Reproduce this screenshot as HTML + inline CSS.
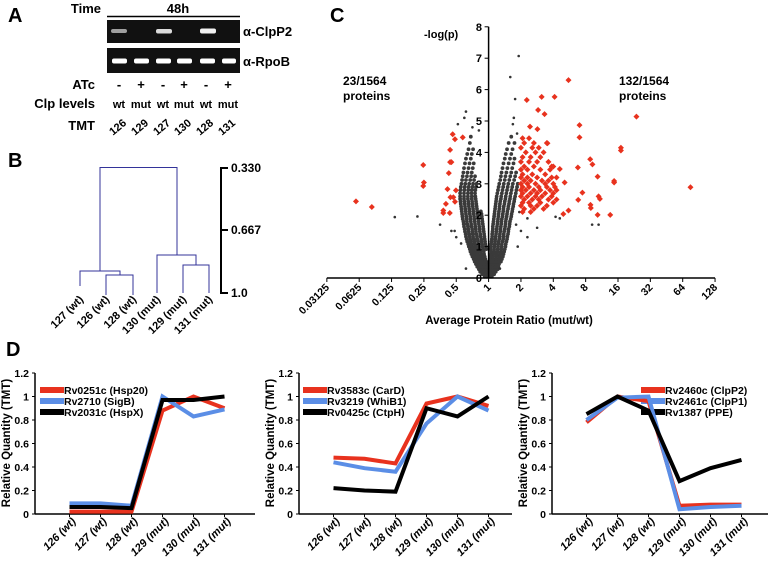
<!DOCTYPE html>
<html><head><meta charset="utf-8"><style>
html,body{margin:0;padding:0;background:#fff;width:768px;height:562px;overflow:hidden}
svg{display:block;font-family:"Liberation Sans",Arial,sans-serif;font-weight:bold}
</style></head><body>
<svg id="fig" width="768" height="562" viewBox="0 0 768 562">
<g>
<text x="8" y="22" font-size="20">A</text>
<text x="101" y="13" font-size="13" text-anchor="end">Time</text>
<text x="178" y="13" font-size="13" text-anchor="middle">48h</text>
<line x1="107" y1="16.5" x2="240" y2="16.5" stroke="#000" stroke-width="1.5"/>
<rect x="107" y="20" width="133" height="23" fill="#111"/>
<rect x="107" y="48" width="133" height="25" fill="#111"/>
<g fill="#fff">
<rect x="111" y="29" width="16" height="4" rx="2" opacity="0.6"/>
<rect x="156" y="29" width="16" height="4.5" rx="2" opacity="0.85"/>
<rect x="200" y="28.5" width="16" height="5" rx="2" opacity="0.95"/>
<rect x="112" y="58.5" width="15" height="5" rx="2"/>
<rect x="134" y="58.5" width="15" height="5" rx="2"/>
<rect x="156" y="58.5" width="15" height="5" rx="2"/>
<rect x="177" y="58.5" width="15" height="5" rx="2"/>
<rect x="200" y="58.5" width="15" height="5" rx="2"/>
<rect x="222" y="58.5" width="14" height="5" rx="2"/>
</g>
<text x="243" y="36" font-size="13">α-ClpP2</text>
<text x="243" y="66" font-size="13">α-RpoB</text>
<text x="95" y="89" font-size="13" text-anchor="end">ATc</text>
<text x="95" y="108" font-size="13" text-anchor="end">Clp levels</text>
<text x="95" y="130" font-size="13" text-anchor="end">TMT</text>
<g font-size="11" text-anchor="middle" id="arows"></g>
</g>
<g>
<text x="8" y="167" font-size="20">B</text>
<g stroke="#333399" stroke-width="1" fill="none">
<path d="M100,271 V167.5 H177 V255"/>
<path d="M80,286 V271 H120 V275"/>
<path d="M106,295 V275 H133 V295"/>
<path d="M157,293 V255 H196 V265"/>
<path d="M183,293 V265 H209 V293"/>
</g>
<g stroke="#000" stroke-width="2">
<line x1="221" y1="167" x2="221" y2="294"/>
<line x1="221" y1="168" x2="228" y2="168"/>
<line x1="221" y1="230" x2="228" y2="230"/>
<line x1="221" y1="293" x2="228" y2="293"/>
</g>
<text x="231" y="172" font-size="12">0.330</text>
<text x="231" y="234" font-size="12">0.667</text>
<text x="231" y="297" font-size="12">1.0</text>
<g font-size="11" text-anchor="end" id="bleaves"></g>
</g>
<g id="pc">
<text x="330" y="22" font-size="20">C</text>
<text x="424" y="38" font-size="11">-log(p)</text>
<text x="343" y="85" font-size="12">23/1564</text>
<text x="343" y="100" font-size="12">proteins</text>
<text x="619" y="85" font-size="12">132/1564</text>
<text x="619" y="100" font-size="12">proteins</text>
<text x="509" y="324" font-size="11.5" text-anchor="middle">Average Protein Ratio (mut/wt)</text>
</g>
<g id="pd">
<text x="6" y="356" font-size="20">D</text>
</g>
</svg>
<script>
var NS='http://www.w3.org/2000/svg';
function mk(tag,attrs,parent){var e=document.createElementNS(NS,tag);for(var k in attrs)e.setAttribute(k,attrs[k]);parent.appendChild(e);return e;}

var laneX=[119,141,163,184,206,228];
var atcSigns=['-','+','-','+','-','+'];
var clpLevels=['wt','mut','wt','mut','wt','mut'];
var tmtTags=['126','129','127','130','128','131'];
var ar=document.getElementById('arows');
laneX.forEach(function(x,i){
  var t=mk('text',{x:x,y:89,'font-size':'13'},ar);t.textContent=atcSigns[i];
  
  
  t=mk('text',{x:x,y:108,'font-size':'11'},ar);t.textContent=clpLevels[i];
  
  
  t=mk('text',{x:0,y:0,'font-size':'11',transform:'translate('+(x+1)+',130) rotate(-40)'},ar);t.textContent=tmtTags[i];
  
  
});
var leafNames=['127 (wt)','126 (wt)','128 (wt)','130 (mut)','129 (mut)','131 (mut)'];
var leafX=[80,106,133,157,183,209];
var bl=document.getElementById('bleaves');
leafNames.forEach(function(n,i){
  var t=mk('text',{transform:'translate('+(leafX[i]+4)+',300) rotate(-45)'},bl);t.textContent=n;
  
  
});

// ===== Panel C: volcano =====
var xTickLabels=['0.03125','0.0625','0.125','0.25','0.5','1','2','4','8','16','32','64','128'];
var yTickLabels=['0','1','2','3','4','5','6','7','8'];
var grayRows=[
[0.04,[-0.12,-0.06,0,0.05,0.1]],
[0.12,[-0.2,-0.14,-0.07,-0.01,0.05,0.11,0.17]],
[0.2,[-0.26,-0.19,-0.12,-0.05,0.02,0.09,0.16,0.22]],
[0.28,[-0.3,-0.23,-0.15,-0.08,0.01,0.08,0.15,0.22,0.28]],
[0.36,[-0.35,-0.27,-0.19,-0.11,-0.03,0.05,0.13,0.21,0.3]],
[0.44,[-0.39,-0.31,-0.22,-0.14,-0.05,0.06,0.14,0.23,0.32]],
[0.52,[-0.43,-0.34,-0.25,-0.16,-0.07,0.04,0.13,0.22,0.31,0.38]],
[0.6,[-0.46,-0.37,-0.28,-0.19,-0.1,0.06,0.15,0.24,0.33,0.41]],
[0.68,[-0.5,-0.41,-0.31,-0.22,-0.12,0.05,0.14,0.24,0.34,0.44]],
[0.76,[-0.53,-0.44,-0.34,-0.24,-0.14,0.07,0.16,0.26,0.36,0.46]],
[0.84,[-0.56,-0.46,-0.36,-0.26,-0.15,0.08,0.18,0.28,0.38,0.48]],
[0.92,[-0.58,-0.48,-0.38,-0.28,-0.17,-0.07,0.06,0.17,0.28,0.39,0.5]],
[1.0,[-0.61,-0.51,-0.41,-0.3,-0.19,-0.08,0.07,0.18,0.29,0.4,0.52]],
[1.08,[-0.63,-0.53,-0.43,-0.32,-0.21,-0.1,0.08,0.19,0.3,0.41,0.53]],
[1.16,[-0.66,-0.55,-0.44,-0.33,-0.22,-0.11,0.09,0.2,0.31,0.43,0.55]],
[1.24,[-0.68,-0.57,-0.46,-0.35,-0.23,-0.12,0.1,0.21,0.33,0.45,0.57]],
[1.32,[-0.7,-0.59,-0.48,-0.36,-0.25,-0.13,0.11,0.22,0.34,0.46,0.58]],
[1.4,[-0.71,-0.6,-0.49,-0.38,-0.26,-0.14,0.11,0.23,0.35,0.47,0.6]],
[1.48,[-0.73,-0.62,-0.5,-0.39,-0.27,-0.15,0.12,0.24,0.36,0.48,0.61]],
[1.56,[-0.74,-0.63,-0.51,-0.4,-0.28,-0.16,0.13,0.25,0.37,0.5,0.62]],
[1.64,[-0.76,-0.64,-0.53,-0.41,-0.29,-0.17,0.13,0.26,0.38,0.51,0.64]],
[1.72,[-0.77,-0.66,-0.54,-0.42,-0.3,-0.18,0.14,0.27,0.39,0.52,0.65]],
[1.8,[-0.78,-0.67,-0.55,-0.43,-0.31,-0.19,0.15,0.28,0.4,0.53,0.66]],
[1.88,[-0.8,-0.68,-0.56,-0.44,-0.32,-0.2,0.16,0.29,0.41,0.54,0.68]],
[1.96,[-0.81,-0.69,-0.57,-0.45,-0.33,-0.21,0.17,0.3,0.43,0.56,0.7]],
[2.04,[-0.82,-0.7,-0.58,-0.46,-0.34,-0.22,0.18,0.31,0.44,0.57,0.71]],
[2.12,[-0.83,-0.71,-0.59,-0.47,-0.35,-0.24,0.19,0.32,0.45,0.58,0.73]],
[2.2,[-0.84,-0.72,-0.6,-0.48,-0.36,0.2,0.33,0.46,0.6,0.74]],
[2.28,[-0.85,-0.73,-0.61,-0.49,-0.37,0.21,0.34,0.47,0.61,0.76]],
[2.36,[-0.86,-0.74,-0.62,-0.5,-0.38,0.22,0.35,0.49,0.63,0.77]],
[2.44,[-0.87,-0.75,-0.63,-0.51,-0.39,0.23,0.36,0.5,0.64,0.79]],
[2.52,[-0.88,-0.76,-0.64,-0.52,-0.4,0.24,0.38,0.52,0.66,0.8]],
[2.6,[-0.88,-0.76,-0.64,-0.52,-0.41,0.25,0.39,0.53,0.67,0.82]],
[2.7,[-0.88,-0.76,-0.64,-0.53,-0.42,0.27,0.41,0.55,0.69,0.84]],
[2.8,[-0.87,-0.75,-0.63,-0.52,-0.41,0.29,0.43,0.57,0.71,0.86]],
[2.9,[-0.86,-0.74,-0.62,-0.5,-0.39,0.31,0.45,0.59,0.73,0.88]],
[3.0,[-0.84,-0.72,-0.6,-0.48,-0.37,0.33,0.47,0.61,0.75,0.9]],
[3.12,[-0.82,-0.7,-0.57,-0.45,0.36,0.5,0.64,0.79]],
[3.24,[-0.8,-0.67,-0.54,-0.42,0.38,0.52,0.67,0.82]],
[3.36,[-0.78,-0.65,-0.52,0.4,0.55,0.7,0.85]],
[3.5,[-0.76,-0.62,-0.49,0.43,0.58,0.73]],
[3.65,[-0.73,-0.59,-0.46,0.46,0.62,0.77]],
[3.8,[-0.7,-0.55,0.5,0.66,0.8]],
[3.95,[-0.66,-0.52,0.53,0.7]],
[4.1,[-0.62,-0.48,0.57,0.74]],
[4.3,[-0.58,0.62,0.8]],
[4.5,[-0.55,0.7]]
];
var grayOutliers=[[-2.9,1.94],[-2.2,1.96],[-1.5,1.7],[-1.15,1.5],[-1.05,1.5],[-0.7,5.3],[-0.75,5.1],[-0.5,4.8],[-0.3,4.7],[-0.95,4.9],[-0.85,1.1],[-1.0,1.3],
[0.93,7.07],[0.67,6.4],[0.82,5.7],[0.78,5.1],[0.75,4.9],[0.88,4.6],[1.2,1.9],[1.5,1.6],[2.07,1.95],[2.2,1.9],[3.2,1.7],[3.4,1.7],[1.0,1.5],[1.2,1.3],[0.9,1.0],[-0.7,0.3],[0.35,0.3],[0.85,1.7],[0.95,2.1]];
var redRows=[
[4.45,[1.05,1.25]],[4.3,[1.1,1.4,1.8]],[4.15,[1.0,1.35,1.55]],[4.0,[1.15,1.45,1.7]],[3.85,[1.05,1.3,1.6]],
[3.7,[1.0,1.25,1.5,1.85]],[3.55,[1.1,1.4,1.95,2.0]],[3.45,[1.0,1.2,1.6,1.9]],[3.3,[1.05,1.35,1.75]],
[3.2,[1.0,1.2,1.5,1.95,2.1]],[3.1,[1.1,1.3,1.65,1.85]],[3.0,[1.0,1.2,1.45,1.75,2.0]],[2.9,[1.05,1.25,1.55,1.8,2.05]],
[2.8,[1.0,1.15,1.4,1.6,1.9,2.1]],[2.7,[1.05,1.3,1.5,1.75,2.0]],[2.6,[1.0,1.2,1.45,1.65,1.95]],[2.5,[1.1,1.35,1.55,1.85,2.1]],
[2.4,[1.05,1.25,1.6,2.0]],[2.3,[1.0,1.3,1.5,1.8]],[2.2,[1.1,1.4,1.7]],[2.1,[1.05,1.3]]
];
var redPoints=[[-4.1,2.44],[-3.61,2.26],[-2.02,3.6],[-2.0,3.04],[-2.02,2.93],[-1.11,4.58],[-1.04,4.42],[-1.19,4.08],[-1.19,3.69],[-1.15,3.69],
[-1.23,3.34],[-1.27,2.83],[-1.01,2.79],[-1.18,2.57],[-1.09,2.57],[-1.32,2.36],[-1.4,2.15],[-1.4,2.07],[-1.2,2.07],[-1.04,2.43],[-0.8,4.48],
[2.47,6.3],[1.18,5.67],[1.64,5.77],[2.04,5.77],[1.53,5.35],[1.73,5.22],[4.57,5.14],[2.81,4.87],[2.81,4.48],[1.28,4.82],[1.51,4.74],
[4.09,4.15],[4.09,4.06],[3.14,3.78],[3.21,3.62],[2.76,3.52],[3.37,3.23],[2.2,3.47],[1.82,4.29],[3.88,3.09],[3.88,3.04],[2.35,3.04],
[2.9,2.72],[2.77,2.49],[3.15,2.33],[3.16,2.23],[3.4,2.6],[3.44,2.52],[3.37,2.01],[3.76,2.01],[2.47,2.15],[2.31,2.04],[6.24,2.89]];

var pc=document.getElementById('pc');
function cx(l){return 488.6+l*32.35;}
function cy(v){return 278-v*31.4;}
grayRows.forEach(function(r){r[1].forEach(function(x){
  var c=mk('circle',{cx:cx(x),cy:cy(r[0]),r:1.9,fill:'#3a3a3a'},pc);
  
  
});});
grayOutliers.forEach(function(p){
  var c=mk('circle',{cx:cx(p[0]),cy:cy(p[1]),r:1.3,fill:'#333'},pc);
  
  
});
function diamond(x,y){
  var X=cx(x),Y=cy(y);
  var d=mk('path',{d:'M'+X+','+(Y-3)+'L'+(X+3)+','+Y+'L'+X+','+(Y+3)+'L'+(X-3)+','+Y+'Z',fill:'#e8321e'},pc);
  
  
}
redRows.forEach(function(r){r[1].forEach(function(x){diamond(x,r[0]);});});
redPoints.forEach(function(p){diamond(p[0],p[1]);});
var ax=mk('line',{x1:cx(-5),y1:278,x2:cx(7),y2:278,stroke:'#000','stroke-width':1.5},pc);


var ay=mk('line',{x1:488.6,y1:cy(8),x2:488.6,y2:278,stroke:'#000','stroke-width':1.5},pc);


xTickLabels.forEach(function(l,i){
  var x=cx(i-5);
  var tk=mk('line',{x1:x,y1:278,x2:x,y2:282,stroke:'#000','stroke-width':1},pc);
  
  
  var t=mk('text',{'font-size':'10.5','text-anchor':'end',transform:'translate('+(x+3)+',288) rotate(-45)'},pc);t.textContent=l;
  
  
});
yTickLabels.forEach(function(l,i){
  var y=cy(i);
  var tk=mk('line',{x1:484.6,y1:y,x2:488.6,y2:y,stroke:'#000','stroke-width':1},pc);
  
  
  var t=mk('text',{x:482,y:y+4,'font-size':'11','text-anchor':'end'},pc);t.textContent=l;
  
  
});

// ===== Panel D =====
var dCategories=['126 (wt)','127 (wt)','128 (wt)','129 (mut)','130 (mut)','131 (mut)'];
var dYTicks=['0','0.2','0.4','0.6','0.8','1','1.2'];
var p1Names=['Rv0251c (Hsp20)','Rv2710 (SigB)','Rv2031c (HspX)'];
var p1Red=[0.02,0.02,0.02,0.88,1.0,0.9];
var p1Blue=[0.09,0.09,0.07,1.0,0.83,0.89];
var p1Black=[0.06,0.06,0.05,0.97,0.97,1.0];
var p2Names=['Rv3583c (CarD)','Rv3219 (WhiB1)','Rv0425c (CtpH)'];
var p2Red=[0.48,0.47,0.43,0.94,1.0,0.92];
var p2Blue=[0.44,0.39,0.36,0.77,1.0,0.88];
var p2Black=[0.22,0.2,0.19,0.9,0.83,1.0];
var p3Names=['Rv2460c (ClpP2)','Rv2461c (ClpP1)','Rv1387 (PPE)'];
var p3Red=[0.78,1.0,0.96,0.07,0.08,0.08];
var p3Blue=[0.8,0.99,1.0,0.04,0.06,0.07];
var p3Black=[0.85,1.0,0.88,0.28,0.39,0.46];

var pd=document.getElementById('pd');
var colors=['#e8321e','#5b8ee6','#000'];
function drawLine(ax0,ax1,vals,vals2,vals3,names,legX,idx){
  var g=mk('g',{},pd);
  
  
  var y0=514,yTop=373;
  function px(i){return ax0+34.5+i*31;}
  function py(v){return y0-(v/1.2)*(y0-yTop);}
  var yl=mk('line',{x1:ax0,y1:yTop,x2:ax0,y2:y0,stroke:'#000','stroke-width':1.5},g);
  
  
  var xl=mk('line',{x1:ax0,y1:y0,x2:ax1,y2:y0,stroke:'#000','stroke-width':1.5},g);
  
  
  dYTicks.forEach(function(l){
    var y=py(parseFloat(l));
    var tk=mk('line',{x1:ax0-3,y1:y,x2:ax0,y2:y,stroke:'#000'},g);
    
    
    var t=mk('text',{x:ax0-6,y:y+4,'font-size':'10.5','text-anchor':'end'},g);t.textContent=l;
    
    
  });
  dCategories.forEach(function(c,i){
    var x=px(i);
    var tk=mk('line',{x1:x,y1:y0,x2:x,y2:y0+3,stroke:'#000'},g);
    
    
    var t=mk('text',{'font-size':'11','font-style':'italic','text-anchor':'end',transform:'translate('+(x+7)+',522) rotate(-45)'},g);t.textContent=c;
    
    
  });
  var t=mk('text',{'font-size':'11.5','text-anchor':'middle',transform:'translate('+(ax0-25)+',443) rotate(-90)'},g);t.textContent='Relative Quantity (TMT)';
  
  
  names.forEach(function(n,k){
    var y=390+k*11;
    var l=mk('line',{x1:legX,y1:y,x2:legX+24,y2:y,stroke:colors[k],'stroke-width':6},g);
    
    
    var tt=mk('text',{x:legX+24,y:y+4,'font-size':'10.5'},g);tt.textContent=n;
    
    
  });
  [vals,vals2,vals3].forEach(function(s,k){
    var d=s.map(function(v,i){return (i?'L':'M')+px(i)+','+py(v);}).join('');
    var p=mk('path',{d:d,fill:'none',stroke:colors[k],'stroke-width':4,'stroke-linejoin':'miter'},g);
    
    
  });
}
drawLine(35,255,p1Red,p1Blue,p1Black,p1Names,40,1);
drawLine(299,512,p2Red,p2Blue,p2Black,p2Names,303,2);
drawLine(552,768,p3Red,p3Blue,p3Black,p3Names,641,3);
</script>
</body></html>
